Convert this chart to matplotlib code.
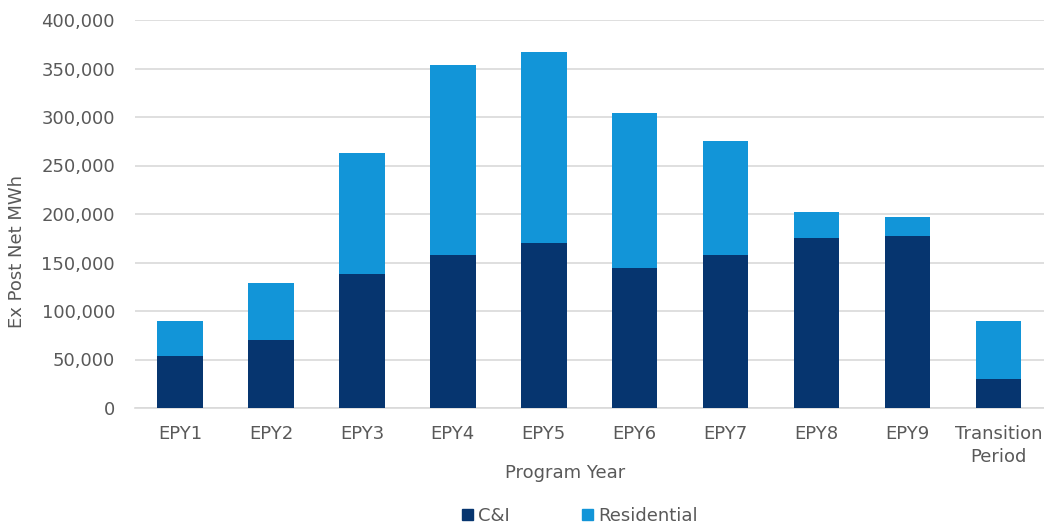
import matplotlib
matplotlib.use("Agg")
import matplotlib.pyplot as plt
import matplotlib.patches as patches
import numpy as np

years = ["EPY1", "EPY2", "EPY3", "EPY4", "EPY5", "EPY6", "EPY7", "EPY8", "EPY9",
         "Transition\nPeriod"]
ci = [53500, 70400, 138400, 157900, 170000, 144200, 158000, 175400, 177500, 30200]
residential = [36700, 58700, 124900, 196100, 196700, 160300, 117400, 26800, 19900, 59000]
yticks = [0, 50000, 100000, 150000, 200000, 250000, 300000, 350000, 400000]

dark = "#06356F"
light = "#1295D8"
grey_txt = "#595959"

plt.rcParams["font.family"] = ["DejaVu Sans"]

fig = plt.figure(figsize=(10.44, 5.27), dpi=100)
ax = fig.add_axes([134.5 / 1044, 119 / 527, (1044 - 134.5) / 1044, 388 / 527])

x = np.arange(len(years))
ax.bar(x, ci, width=0.5, color=dark, zorder=3, label="C&I")
ax.bar(x, residential, width=0.5, bottom=ci, color=light, zorder=3, label="Residential")

ax.set_xlim(-0.5, len(years) - 0.5)
ax.set_ylim(0, 400000)
ax.set_yticks(yticks)
ax.set_yticklabels([f"{v:,}" for v in yticks])
ax.set_xticks(x)
ax.set_xticklabels(years, linespacing=1.35)
ax.grid(axis="y", color="#d9d9d9", linewidth=1.2, zorder=0)
for s in ["top", "right", "left"]:
    ax.spines[s].set_visible(False)
ax.spines["bottom"].set_color("#d9d9d9")
ax.spines["bottom"].set_linewidth(1.2)
ax.tick_params(axis="both", length=0, colors=grey_txt, labelsize=13)
ax.tick_params(axis="y", pad=14)
ax.tick_params(axis="x", pad=12)

ax.set_xlabel("Program Year", fontsize=13, color=grey_txt)
ax.xaxis.set_label_coords((565 - 134.5) / (1044 - 134.5), -0.145)
fig.text(17 / 1044, (527 - 252) / 527, "Ex Post Net MWh", rotation=90,
         ha="center", va="center", fontsize=13, color=grey_txt)

handles = [patches.Patch(color=dark, label="C&I"),
           patches.Patch(color=light, label="Residential")]
leg = fig.legend(handles=handles, loc="center", ncol=2, frameon=False,
                 bbox_to_anchor=(580 / 1044, 11 / 527), fontsize=13,
                 handlelength=0.6, handleheight=0.6, handletextpad=0.3,
                 columnspacing=4)
for t in leg.get_texts():
    t.set_color(grey_txt)

fig.savefig("out.png", dpi=100)
